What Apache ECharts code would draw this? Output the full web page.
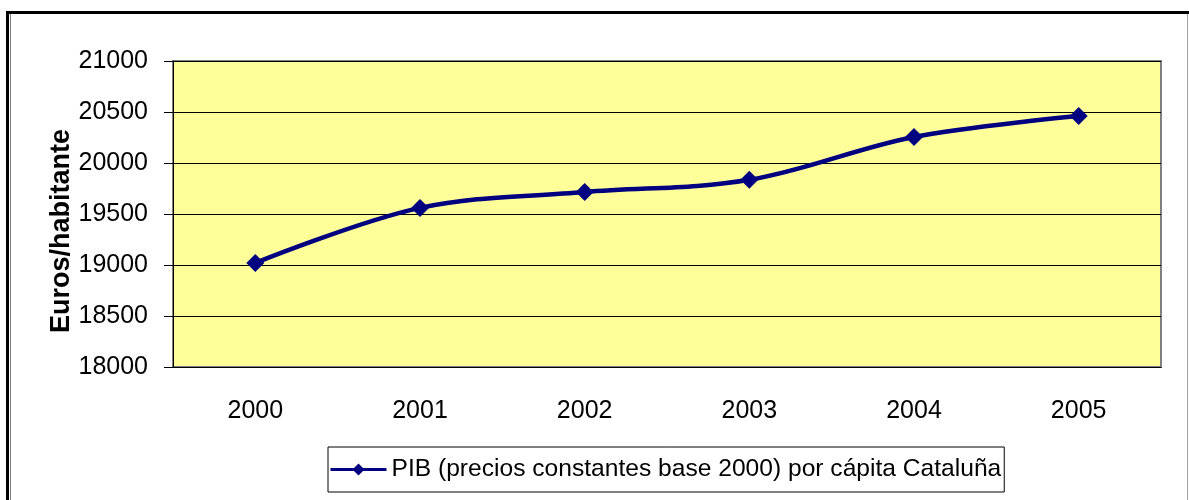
<!DOCTYPE html>
<html lang="es">
<head>
<meta charset="UTF-8">
<title>PIB per cápita Cataluña</title>
<style>
    * { box-sizing: border-box; margin: 0; padding: 0; }
    body { background: #fff; width: 1189px; height: 500px; overflow: hidden; position: relative; }
    /* marco exterior */
    .frame-top { position: absolute; left: 6px; top: 11px; width: 1183px; height: 3px; background: #000; }
    .frame-left { position: absolute; left: 6px; top: 11px; width: 3px; height: 489px; background: #000; }
    .frame-left2 { position: absolute; left: 10px; top: 14px; width: 1px; height: 486px; background: #808080; }
    .frame-right { position: absolute; left: 1187px; top: 14px; width: 1px; height: 486px; background: #a0a0a0; }
    #chart { position: absolute; left: 0; top: 0; width: 1189px; height: 500px; }
</style>
<script src="https://cdn.jsdelivr.net/npm/echarts@6/dist/echarts.min.js"></script>
</head>
<body>
<div id="chart"></div>
<div class="frame-top"></div>
<div class="frame-left"></div>
<div class="frame-left2"></div>
<div class="frame-right"></div>
<script>
    // datos
    const years = ['2000', '2001', '2002', '2003', '2004', '2005'];
    const pibPerCapita = [19020, 19560, 19715, 19835, 20255, 20460];
    const seriesName = 'PIB (precios constantes base 2000) por cápita Cataluña';

    const font = '"Liberation Sans", Arial, sans-serif';
    const chart = echarts.init(document.getElementById('chart'));
    chart.setOption({
        animation: false,
        textStyle: { fontFamily: font },
        grid: {
            left: 173, right: 28, top: 61, bottom: 133,
            show: true, backgroundColor: '#FFFF99',
            borderColor: '#808080', borderWidth: 2
        },
        legend: {
            left: 328, top: 447,
            data: [seriesName],
            borderColor: '#000', borderWidth: 1,
            padding: [10, 3, 10, 1],
            itemWidth: 56, itemHeight: 15,
            lineStyle: { width: 3 },
            textStyle: { fontFamily: font, fontSize: 24.6, color: '#000' }
        },
        xAxis: {
            type: 'category',
            data: years,
            axisLine: { lineStyle: { color: '#000', width: 1 } },
            axisTick: { length: 9, lineStyle: { color: '#000' } },
            axisLabel: { margin: 32, fontSize: 25, color: '#000', fontFamily: font }
        },
        yAxis: {
            type: 'value',
            min: 18000, max: 21000, interval: 500,
            name: 'Euros/habitante',
            nameLocation: 'middle',
            nameGap: 98,
            nameMoveOverlap: false,
            nameTextStyle: {
                fontSize: 27, fontWeight: 'bold', color: '#000', fontFamily: font,
                padding: [0, 34, 0, 0]
            },
            axisLine: { show: true, lineStyle: { color: '#000', width: 1 } },
            axisTick: { show: true, length: 9, lineStyle: { color: '#000' } },
            axisLabel: {
                margin: 25, fontSize: 25, color: '#000', fontFamily: font,
                formatter: v => String(v)
            },
            splitLine: { lineStyle: { color: '#000', width: 1 } }
        },
        series: [{
            name: seriesName,
            type: 'line',
            data: pibPerCapita,
            smooth: 0.35,
            symbol: 'diamond',
            symbolSize: 18,
            lineStyle: { color: '#000080', width: 4.5 },
            itemStyle: { color: '#000080' }
        }]
    });
</script>
</body>
</html>
